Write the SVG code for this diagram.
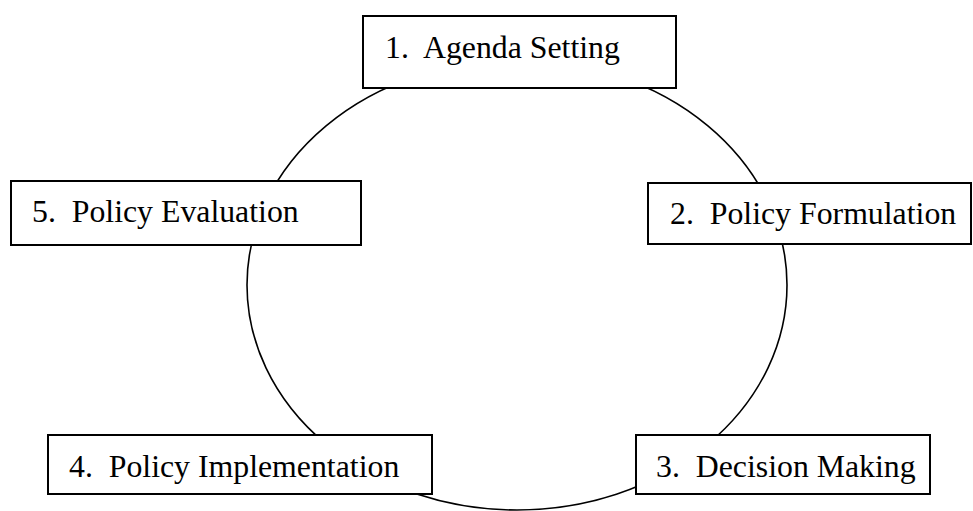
<svg xmlns="http://www.w3.org/2000/svg" width="973" height="511" viewBox="0 0 973 511">
<style>
.box{fill:#ffffff;stroke:#000000;stroke-width:2}
.lbl{font-family:'Liberation Serif','Times New Roman',Times,'DejaVu Serif',serif;font-size:31.8px;fill:#000000;white-space:pre}
.cyc{fill:none;stroke:#000000;stroke-width:1.6}
</style>
<rect x="0" y="0" width="973" height="511" fill="#ffffff"/>
<g id="connectors">
<ellipse class="cyc" cx="517" cy="285" rx="270" ry="225"/>
</g>
<g id="node1">
<rect class="box" x="363" y="16" width="313" height="72"/>
<text class="lbl" x="385" y="58" xml:space="preserve">1.  Agenda Setting</text>
</g>
<g id="node2">
<rect class="box" x="648" y="183" width="323" height="61"/>
<text class="lbl" x="670" y="224" xml:space="preserve">2.  Policy Formulation</text>
</g>
<g id="node3">
<rect class="box" x="636" y="435" width="294" height="59"/>
<text class="lbl" x="656" y="477" xml:space="preserve">3.  Decision Making</text>
</g>
<g id="node4">
<rect class="box" x="48" y="435" width="384" height="59"/>
<text class="lbl" x="69" y="477" xml:space="preserve">4.  Policy Implementation</text>
</g>
<g id="node5">
<rect class="box" x="11" y="181" width="350" height="64"/>
<text class="lbl" x="32" y="222" xml:space="preserve">5.  Policy Evaluation</text>
</g>
</svg>
